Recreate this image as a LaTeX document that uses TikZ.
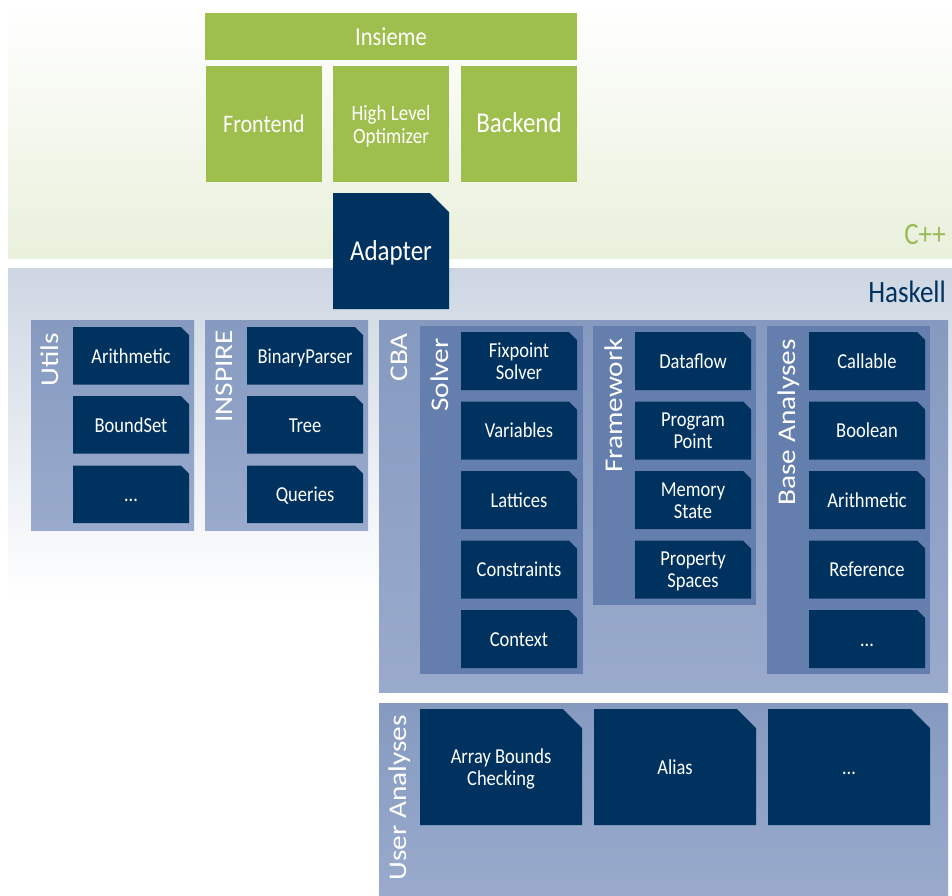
\documentclass[tikz,border=0pt]{standalone}
\usepackage{fontspec}
\setmainfont{Carlito}
\usepackage{graphicx}
\usetikzlibrary{calc}
\definecolor{navy}{RGB}{0,50,96}
\definecolor{lime}{RGB}{158,191,77}
\definecolor{cpp}{RGB}{155,187,89}
\definecolor{outerT}{RGB}{134,154,192}
\definecolor{outerB}{RGB}{153,170,204}
\definecolor{innerP}{RGB}{100,126,174}
\definecolor{bandG}{RGB}{233,240,219}
\definecolor{bandH}{RGB}{205,214,226}

\newcommand\vs[1]{\raisebox{-3pt}[\height][\depth]{\scalebox{1}[1.15]{\begin{tabular}{@{}c@{}}#1\end{tabular}}}}
\newcommand\hs[1]{\scalebox{1.15}[1]{#1}}

\tikzset{
  itemtext/.style={text=white, font=\fontsize{18.5}{19}\selectfont, inner sep=0pt},
  greenbox/.style={fill=lime, text=white, inner sep=0pt},
  lbl/.style={text=white, font=\fontsize{25.5}{28}\selectfont, rotate=90, anchor=base east, inner sep=0pt},
  outerpanel/.style={top color=outerT, bottom color=outerB},
  innerpanel/.style={fill=innerP},
}

% #1 cut, #2 name, #3 top-left, #4 bottom-right, #5 text
\newcommand\itm[5][8]{%
  \coordinate (#2-a) at (#3);
  \coordinate (#2-b) at (#4);
  \coordinate (#2-c) at (#2-b |- #2-a);
  \fill[navy] (#2-a) -- ([xshift=-#1pt]#2-c) -- ([yshift=-#1pt]#2-c) -- (#2-b) -- (#2-a |- #2-b) -- cycle;
  \node[itemtext] (#2) at ($(#2-a)!0.5!(#2-b)$) {\vs{#5}};
}

\begin{document}
\begin{tikzpicture}[x=1pt,y=-1pt]
\useasboundingbox (0,0) rectangle (952,895);
\fill[white] (0,0) rectangle (952,895);

% bands
\shade[top color=white, bottom color=bandG] (8,5) rectangle (952,258);
\shade[top color=bandH, bottom color=white] (8,268) rectangle (952,600);
\node[text=cpp, font=\fontsize{27}{30}\selectfont, anchor=base east, inner sep=0pt] (cpp) at (946,244) {\scalebox{1}[1.15]{C++}};
\node[text=navy, font=\fontsize{27}{30}\selectfont, anchor=base east, inner sep=0pt] (haskell) at (946,302) {\scalebox{1}[1.15]{Haskell}};

% Insieme
\node[greenbox, minimum width=372, minimum height=47, font=\fontsize{22.5}{24}\selectfont] (insieme) at (391,36.5) {\vs{Insieme}};
\node[greenbox, minimum width=116, minimum height=116, font=\fontsize{22}{24}\selectfont] (frontend) at (264,124) {\vs{Frontend}};
\node[greenbox, minimum width=116, minimum height=116, font=\fontsize{19}{20}\selectfont] (hlo) at (391,124) {\vs{High Level\\Optimizer}};
\node[greenbox, minimum width=116, minimum height=116, font=\fontsize{25}{26}\selectfont] (backend) at (519,124) {\vs{Backend}};

% Adapter
\coordinate (ad-a) at (333,193);
\coordinate (ad-b) at (449,309);
\coordinate (ad-c) at (ad-b |- ad-a);
\fill[navy] (ad-a) -- ([xshift=-19pt]ad-c) -- ([yshift=-19pt]ad-c) -- (ad-b) -- (ad-a |- ad-b) -- cycle;
\node[itemtext, font=\fontsize{25}{26}\selectfont] (adapter) at (391,252) {\vs{Adapter}};

% Utils
\shade[outerpanel] (31,320) rectangle (194,530);
\node[lbl] (utilsL) at (58,333) {\hs{Utils}};
\itm{u1}{73,327}{189,384.5}{Arithmetic}
\itm{u2}{73,396}{189,453.5}{BoundSet}
\itm{u3}{73,465.5}{189,523}{…}

% INSPIRE
\shade[outerpanel] (205,320) rectangle (368,530);
\node[lbl] (inspireL) at (232,330) {\hs{INSPIRE}};
\itm{i1}{247,327}{363,384.5}{BinaryParser}
\itm{i2}{247,396}{363,453.5}{Tree}
\itm{i3}{247,465.5}{363,523}{Queries}

% CBA
\shade[outerpanel] (379,320) rectangle (948,692);
\node[lbl] (cbaL) at (407,333) {\hs{CBA}};

% Solver
\fill[innerpanel] (420,326) rectangle (583,674);
\node[lbl] (solverL) at (448,338) {\hs{Solver}};
\itm{s1}{461,332}{577,390}{Fixpoint\\Solver}
\itm{s2}{461,401.5}{577,459.5}{Variables}
\itm{s3}{461,471}{577,529}{Lattices}
\itm{s4}{461,540.5}{577,598.5}{Constraints}
\itm{s5}{461,610}{577,668}{Context}

% Framework
\fill[innerpanel] (593,326) rectangle (756,605);
\node[lbl] (frameworkL) at (622,338) {\hs{Framework}};
\itm{f1}{635,332}{751,390}{Dataflow}
\itm{f2}{635,401.5}{751,459.5}{Program\\Point}
\itm{f3}{635,471}{751,529}{Memory\\State}
\itm{f4}{635,540.5}{751,598.5}{Property\\Spaces}

% Base Analyses
\fill[innerpanel] (767,326) rectangle (930,674);
\node[lbl] (baseL) at (795,339) {\hs{Base Analyses}};
\itm{b1}{809,332}{925,390}{Callable}
\itm{b2}{809,401.5}{925,459.5}{Boolean}
\itm{b3}{809,471}{925,529}{Arithmetic}
\itm{b4}{809,540.5}{925,598.5}{Reference}
\itm{b5}{809,610}{925,668}{…}

% User Analyses
\shade[outerpanel] (379,703) rectangle (948,895);
\node[lbl] (userL) at (406,715) {\hs{User Analyses}};
\itm[19]{ua1}{420,709}{582,825}{Array Bounds\\Checking}
\itm[19]{ua2}{594,709}{756,825}{Alias}
\itm[19]{ua3}{768,709}{930,825}{…}
\end{tikzpicture}
\end{document}
